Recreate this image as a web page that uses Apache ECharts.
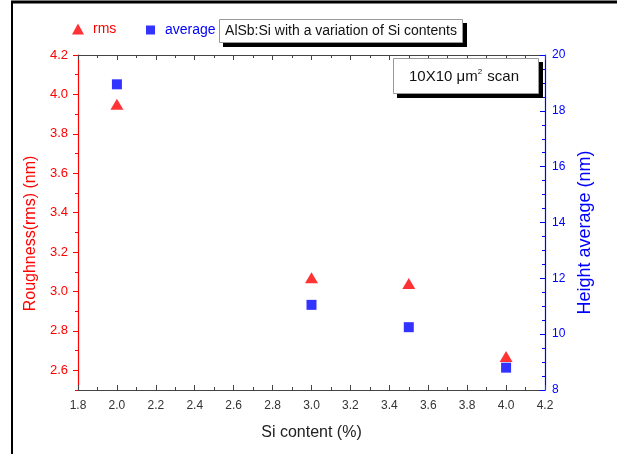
<!DOCTYPE html>
<html>
<head>
<meta charset="utf-8">
<script src="https://cdn.jsdelivr.net/npm/echarts@6/dist/echarts.min.js"></script>
<style>
  html, body { margin: 0; padding: 0; background: #fff; }
  #chart { width: 617px; height: 454px; }
</style>
</head>
<body>
<div id="chart"></div>
<script>
// Si content of the AlSb:Si samples (%)
const siContent = [2.0, 3.0, 3.5, 4.0];
// RMS roughness (nm), left axis
const rmsValues = [3.95, 3.07, 3.04, 2.67];
// Height average (nm), right axis
const averageValues = [18.95, 11.05, 10.25, 8.8];

// Tick positions for the roughness axis (range starts at 2.5)
const rmsMajorTicks = [2.6, 2.8, 3.0, 3.2, 3.4, 3.6, 3.8, 4.0, 4.2];
const rmsMinorTicks = [2.5, 2.7, 2.9, 3.1, 3.3, 3.5, 3.7, 3.9, 4.1];

const FONT = 'Liberation Sans, Arial, sans-serif';
const RED = '#ff0000';
const BLUE = '#0000ff';
const DARK = '#444444';

const chart = echarts.init(document.getElementById('chart'), null, { renderer: 'canvas' });

const xCommon = {
  type: 'value',
  min: 1.8,
  max: 4.2,
  interval: 0.2,
  splitLine: { show: false },
  axisLine: { lineStyle: { color: DARK, width: 1.2 } },
  axisTick: { inside: true, length: 5, lineStyle: { color: DARK } },
  minorTick: { show: true, splitNumber: 2, length: 3, lineStyle: { color: DARK } },
  minorSplitLine: { show: false }
};

chart.setOption({
  animation: false,
  grid: { left: 78, right: 72, top: 55, bottom: 64, containLabel: false },
  legend: [
    {
      left: 67,
      top: 17,
      itemWidth: 12,
      itemHeight: 11,
      data: [{ name: 'rms', icon: 'triangle' }],
      textStyle: { fontFamily: FONT, fontSize: 14, color: RED, padding: [0, 0, 0, 4] }
    },
    {
      left: 141,
      top: 18,
      itemWidth: 9,
      itemHeight: 9,
      data: [{ name: 'average', icon: 'rect' }],
      textStyle: { fontFamily: FONT, fontSize: 14, color: BLUE, padding: [0, 0, 0, 5] }
    }
  ],
  xAxis: [
    Object.assign({}, xCommon, {
      position: 'bottom',
      name: 'Si content (%)',
      nameLocation: 'middle',
      nameGap: 35,
      nameTextStyle: { fontFamily: FONT, fontSize: 16, color: '#222' },
      axisLabel: {
        margin: 10,
        fontFamily: FONT,
        fontSize: 12,
        color: '#333',
        formatter: v => v.toFixed(1)
      }
    }),
    Object.assign({}, xCommon, {
      position: 'top',
      axisLabel: { show: false }
    })
  ],
  yAxis: [
    {
      type: 'value',
      position: 'left',
      min: 2.5,
      max: 4.2,
      splitLine: { show: false },
      name: 'Roughness(rms) (nm)',
      nameLocation: 'middle',
      nameGap: 38,
      nameTextStyle: { fontFamily: FONT, fontSize: 16, color: RED, padding: [0, 22, 0, 0] },
      axisLine: { show: true, lineStyle: { color: RED, width: 1.2 } },
      axisTick: { show: true, inside: false, length: 5, customValues: rmsMajorTicks, lineStyle: { color: RED } },
      axisLabel: {
        margin: 10,
        fontFamily: FONT,
        fontSize: 13,
        color: RED,
        customValues: rmsMajorTicks,
        formatter: v => v.toFixed(1)
      }
    },
    {
      type: 'value',
      position: 'right',
      min: 8,
      max: 20,
      interval: 2,
      splitLine: { show: false },
      name: 'Height average (nm)',
      nameLocation: 'middle',
      nameGap: 28,
      nameTextStyle: { fontFamily: FONT, fontSize: 18, color: BLUE, padding: [0, 20, 0, 0] },
      axisLine: { show: true, lineStyle: { color: BLUE, width: 1.2 } },
      axisTick: { show: true, inside: true, length: 5, lineStyle: { color: BLUE } },
      minorTick: { show: true, splitNumber: 4, length: 3, lineStyle: { color: BLUE } },
      axisLabel: { margin: 7, fontFamily: FONT, fontSize: 12, color: BLUE }
    },
    {
      // minor ticks of the roughness axis
      type: 'value',
      position: 'left',
      min: 2.5,
      max: 4.2,
      splitLine: { show: false },
      axisLine: { show: false },
      axisTick: { show: true, inside: false, length: 3, customValues: rmsMinorTicks, lineStyle: { color: RED } },
      axisLabel: { show: false, customValues: [] }
    }
  ],
  series: [
    {
      name: 'rms',
      type: 'scatter',
      xAxisIndex: 0,
      yAxisIndex: 0,
      symbol: 'triangle',
      symbolSize: [13, 11],
      itemStyle: { color: RED },
      data: siContent.map((x, i) => [x, rmsValues[i]])
    },
    {
      name: 'average',
      type: 'scatter',
      xAxisIndex: 0,
      yAxisIndex: 1,
      symbol: 'rect',
      symbolSize: 10,
      itemStyle: { color: BLUE },
      data: siContent.map((x, i) => [x, averageValues[i]])
    }
  ],
  graphic: [
    // page frame (top and left edges)
    { type: 'line', shape: { x1: 11, y1: 2, x2: 617, y2: 2 }, style: { stroke: '#000', lineWidth: 3 } },
    { type: 'line', shape: { x1: 12, y1: 2, x2: 12, y2: 454 }, style: { stroke: '#000', lineWidth: 2 } },
    // title box with drop shadow
    { type: 'rect', shape: { x: 223, y: 23, width: 244, height: 24 }, style: { fill: '#000' }, z: 10 },
    { type: 'rect', shape: { x: 219.5, y: 19.5, width: 243, height: 23 }, style: { fill: '#fff', stroke: '#999', lineWidth: 1 }, z: 11 },
    {
      type: 'text', x: 341, y: 31, z: 12,
      style: { text: 'AlSb:Si with a variation of Si contents', fontFamily: FONT, fontSize: 14, fill: '#111', align: 'center', verticalAlign: 'middle' }
    },
    // scan size box with drop shadow
    { type: 'rect', shape: { x: 397, y: 62, width: 146, height: 36 }, style: { fill: '#000' }, z: 10 },
    { type: 'rect', shape: { x: 393.5, y: 58.5, width: 145, height: 35 }, style: { fill: '#fff', stroke: '#999', lineWidth: 1 }, z: 11 },
    {
      type: 'text', x: 464, y: 77, z: 12,
      style: {
        text: '10X10 μm{sup|2} scan',
        fontFamily: FONT, fontSize: 15, fill: '#111', align: 'center', verticalAlign: 'middle',
        rich: { sup: { fontFamily: FONT, fontSize: 8, fill: '#111', verticalAlign: 'top', padding: [0, 1, 10, 0] } }
      }
    }
  ]
});
</script>
</body>
</html>
